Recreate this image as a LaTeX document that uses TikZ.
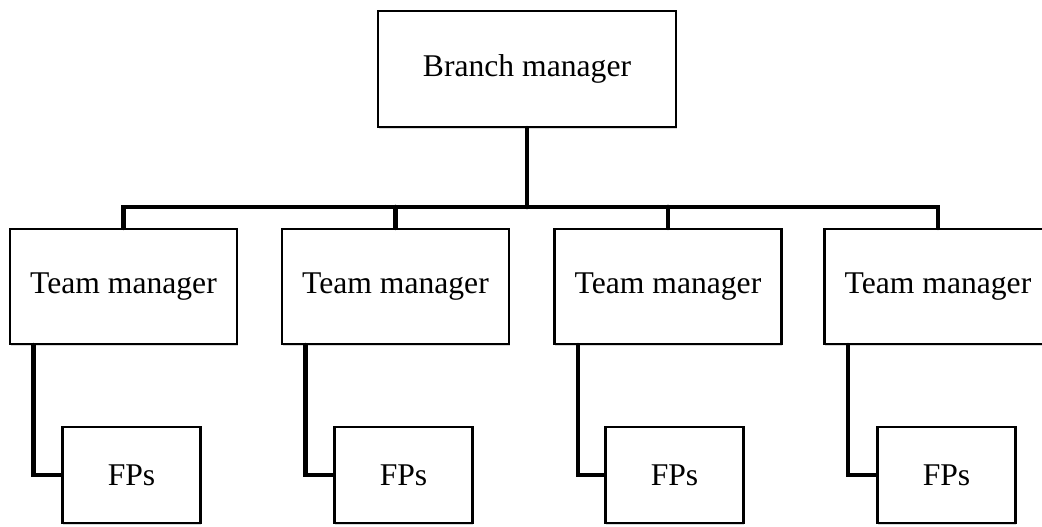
\documentclass[tikz,border=0pt]{standalone}
\usepackage{fontspec}
\setmainfont{Liberation Serif}
\usetikzlibrary{calc,positioning,shadows}

\begin{document}
\begin{tikzpicture}[x=0.02cm,y=-0.02cm,
    box/.style={draw,line width=1.3pt,rectangle,align=center,fill=white,
      drop shadow={shadow xshift=0.5pt,shadow yshift=-1pt,opacity=0.3},
      font=\fontsize{18}{21}\selectfont},
    bossbox/.style={box,minimum width=5.96cm,minimum height=2.32cm},
    teambox/.style={box,minimum width=4.54cm,minimum height=2.30cm},
    fpbox/.style={box,minimum width=2.76cm,minimum height=1.92cm},
    link/.style={line width=2.6pt,line cap=round,line join=miter}]

    \useasboundingbox (0,0) rectangle (1042,527);

    % top
    \node (bm) at (527,69) [bossbox] {Branch manager};
    \coordinate (bus) at (527,207);

    % team managers
    \node (tm1) at (123.5,286.5) [teambox] {Team manager};
    \node (tm2) at (395.5,286.5) [teambox] {Team manager};
    \node (tm3) at (668,286.5) [teambox] {Team manager};
    \node (tm4) at (938,286.5) [teambox] {Team manager};

    % FPs
    \node (fp1) at (131.5,475) [fpbox] {FPs};
    \node (fp2) at (403.5,475) [fpbox] {FPs};
    \node (fp3) at (674.5,475) [fpbox] {FPs};
    \node (fp4) at (946.5,475) [fpbox] {FPs};

    % tree lines
    \draw[link] (bm.south) -- (bus);
    \draw[link] (tm1.north) -- (tm1.north |- bus) -- (tm4.north |- bus) -- (tm4.north);
    \draw[link] (tm2.north) -- (tm2.north |- bus);
    \draw[link] (tm3.north) -- (tm3.north |- bus);

    \draw[link] ([xshift=-1.8cm]tm1.south) |- (fp1.west);
    \draw[link] ([xshift=-1.8cm]tm2.south) |- (fp2.west);
    \draw[link] ([xshift=-1.8cm]tm3.south) |- (fp3.west);
    \draw[link] ([xshift=-1.8cm]tm4.south) |- (fp4.west);

\end{tikzpicture}
\end{document}
